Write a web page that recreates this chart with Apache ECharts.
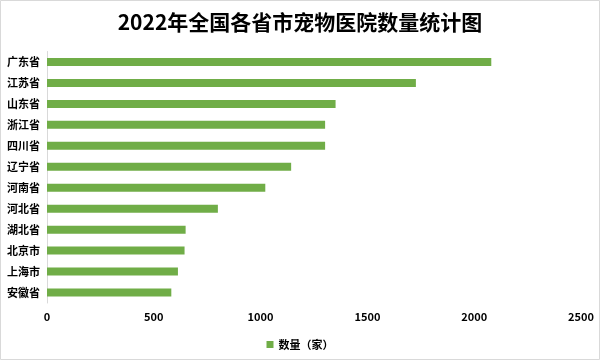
<!DOCTYPE html>
<html>
<head>
<meta charset="utf-8">
<script src="https://cdn.jsdelivr.net/npm/echarts@6/dist/echarts.min.js"></script>
<style>
html,body{margin:0;padding:0;background:#fff;}
#main{width:600px;height:360px;}
</style>
</head>
<body>
<div id="main"></div>
<script>
const categories = ['广东省','江苏省','山东省','浙江省','四川省','辽宁省','河南省','河北省','湖北省','北京市','上海市','安徽省'];
const values = [2080, 1727, 1351, 1302, 1302, 1143, 1022, 800, 649, 644, 613, 582];
const seriesName = '数量（家）';
const titleText = '2022年全国各省市宠物医院数量统计图';

const font = '"Noto Sans CJK SC", "Noto Sans", sans-serif';
const chart = echarts.init(document.getElementById('main'));
chart.setOption({
  animation: false,
  backgroundColor: '#fff',
  title: {
    text: titleText,
    left: 'center',
    top: 7,
    textStyle: { fontFamily: font, fontSize: 21, fontWeight: 'bold', color: '#000' }
  },
  legend: {
    data: [seriesName],
    left: 'center',
    top: 334,
    itemWidth: 7,
    itemHeight: 7,
    itemGap: 4,
    icon: 'rect',
    textStyle: { fontFamily: font, fontSize: 11, fontWeight: 'bold', color: '#000' }
  },
  grid: { left: 47, right: 19, top: 51.5, bottom: 57, containLabel: false },
  xAxis: {
    type: 'value',
    min: 0,
    max: 2500,
    interval: 500,
    axisLine: { show: false },
    axisTick: { show: false },
    splitLine: { show: false },
    axisLabel: { fontFamily: font, fontSize: 11, fontWeight: 'bold', color: '#000', margin: 8,
      formatter: function (v) { return String(v); } }
  },
  yAxis: {
    type: 'category',
    data: categories,
    inverse: true,
    axisLine: { show: true, lineStyle: { color: '#d9d9d9', width: 1 } },
    axisTick: { show: false },
    axisLabel: { fontFamily: font, fontSize: 11, fontWeight: 'bold', color: '#000', margin: 7 }
  },
  series: [{
    name: seriesName,
    type: 'bar',
    data: values,
    barWidth: 8,
    itemStyle: { color: '#70ad47' }
  }],
  graphic: [{
    type: 'rect',
    shape: { x: 0.5, y: 0.5, width: 599, height: 359 },
    style: { fill: 'none', stroke: '#d9d9d9', lineWidth: 1 },
    silent: true
  }]
});
</script>
</body>
</html>
